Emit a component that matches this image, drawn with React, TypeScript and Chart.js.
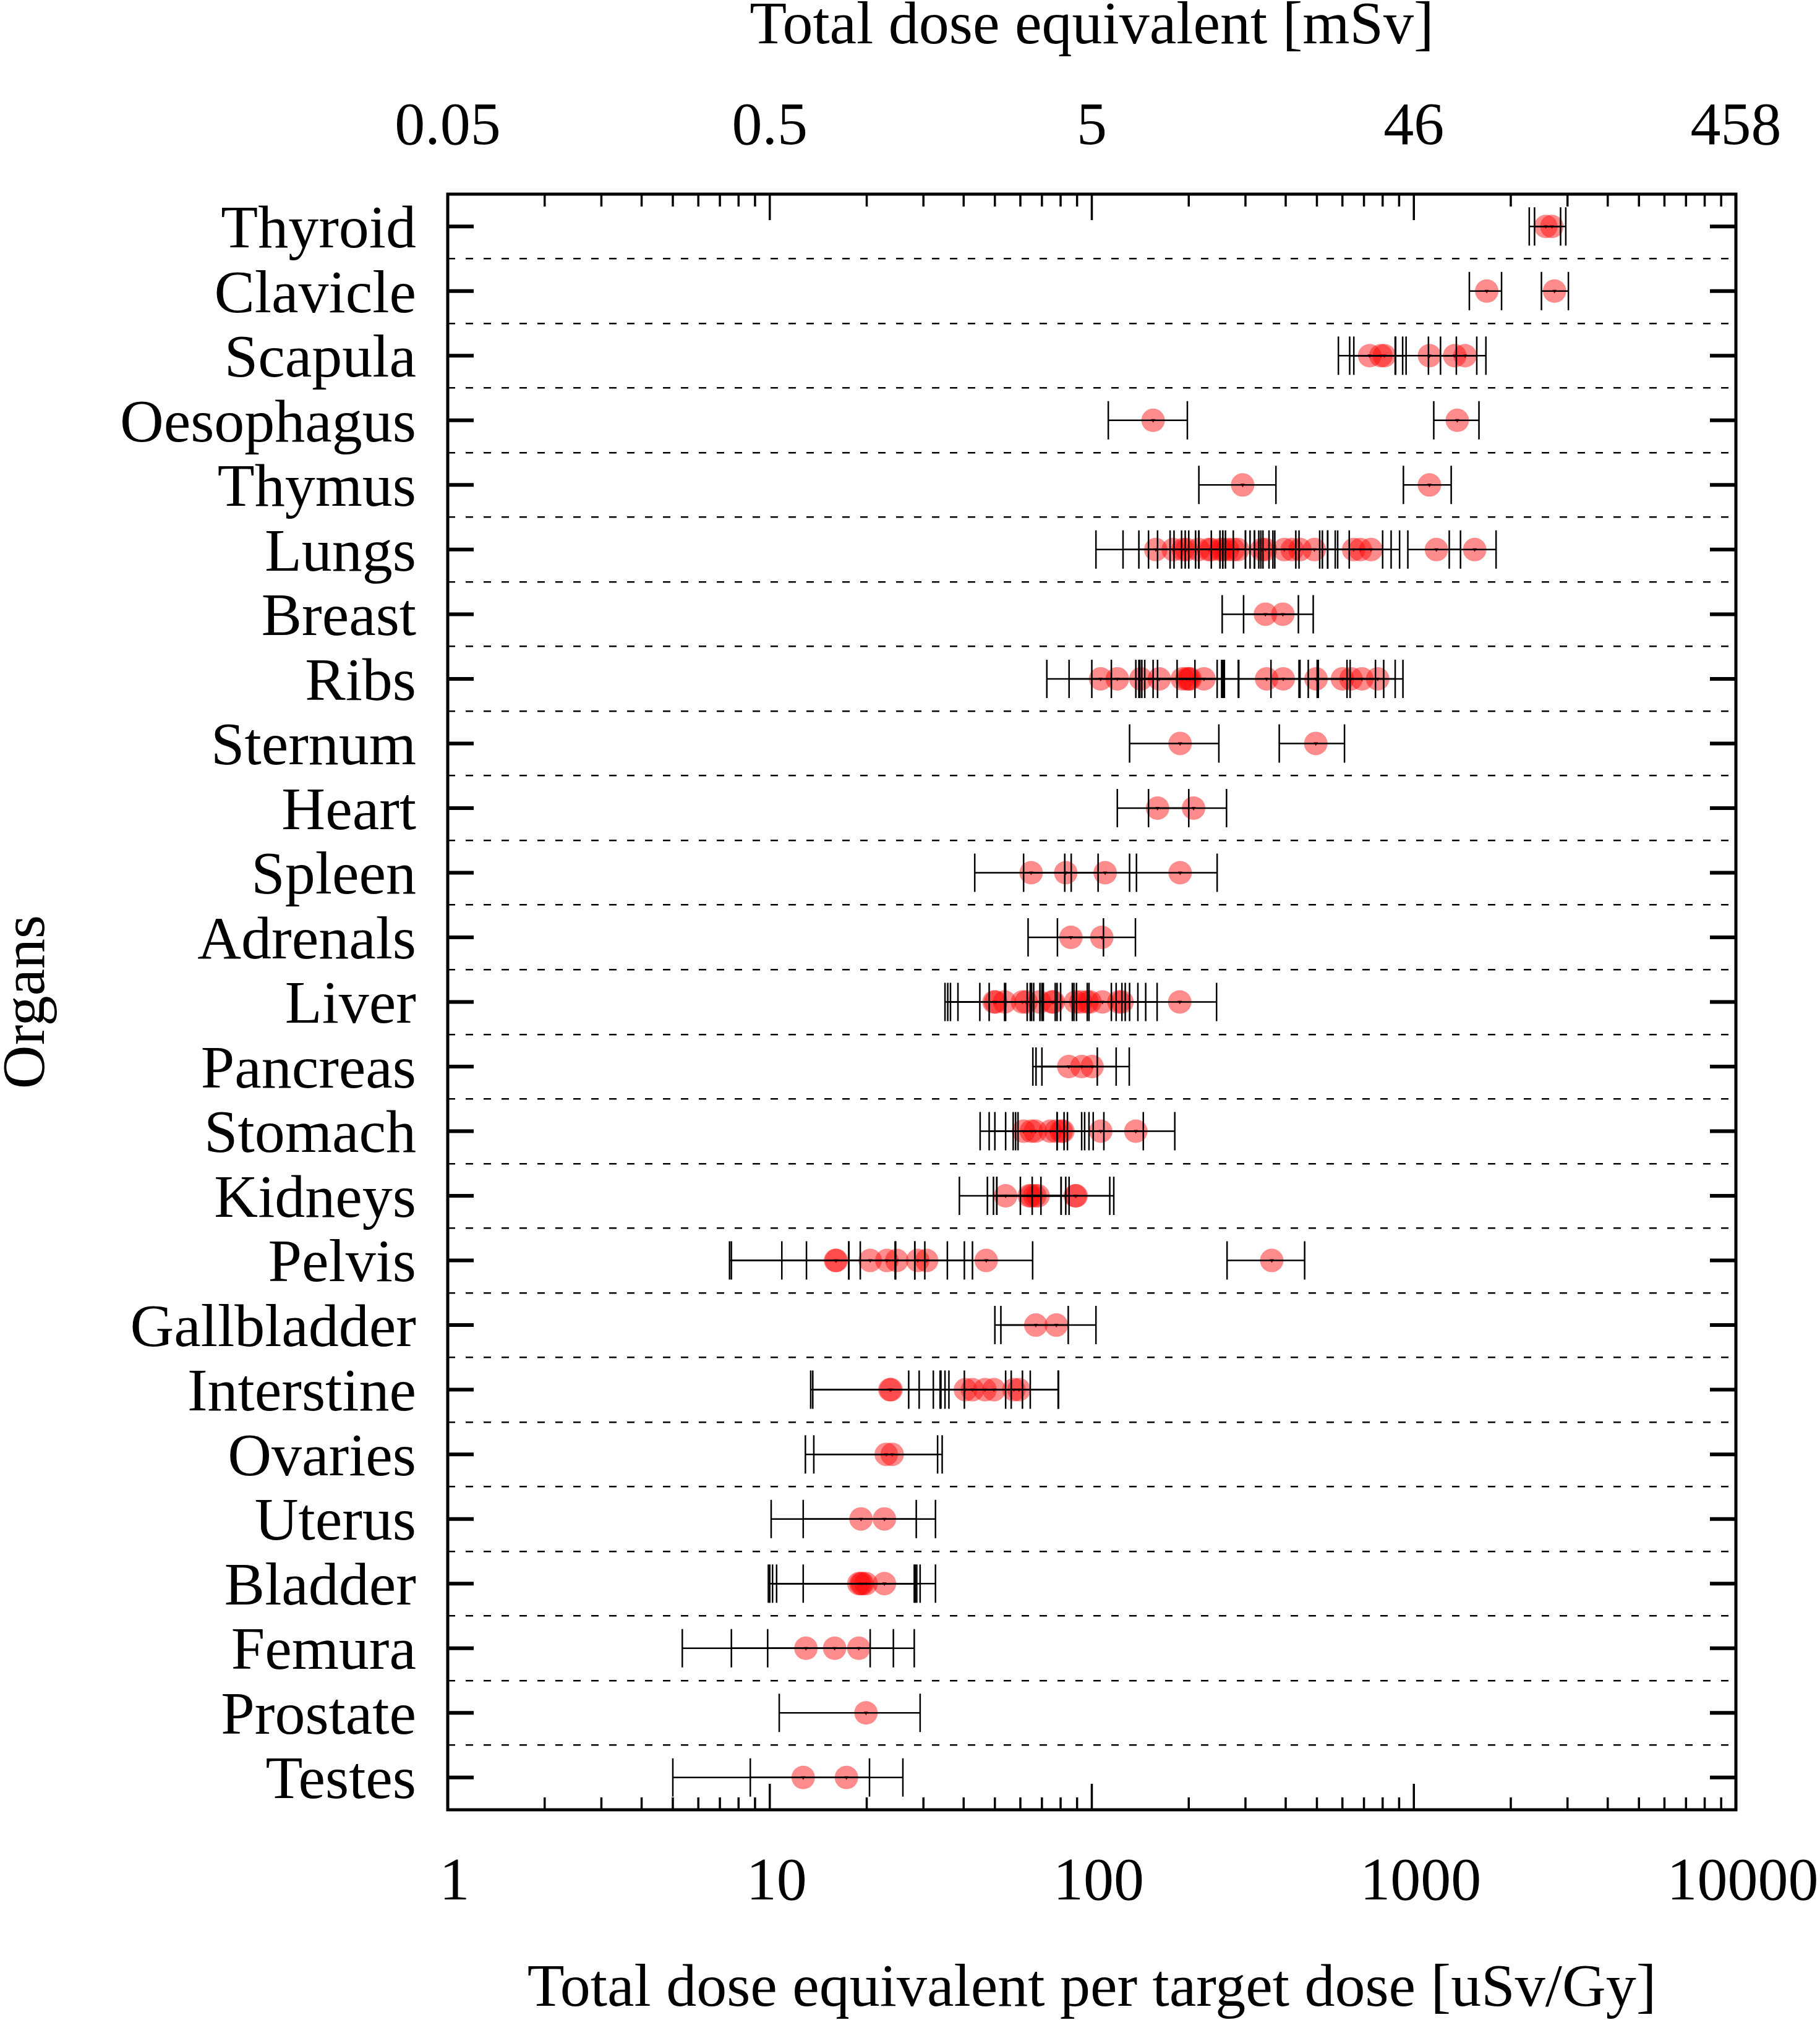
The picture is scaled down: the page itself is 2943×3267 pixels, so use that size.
import { useEffect, useRef } from "react";
import { Chart, registerables } from "chart.js";

Chart.register(...registerables);

// organ rows, top to bottom
const organs = [
  "Thyroid", "Clavicle", "Scapula", "Oesophagus", "Thymus", "Lungs", "Breast",
  "Ribs", "Sternum", "Heart", "Spleen", "Adrenals", "Liver", "Pancreas",
  "Stomach", "Kidneys", "Pelvis", "Gallbladder", "Interstine", "Ovaries",
  "Uterus", "Bladder", "Femura", "Prostate", "Testes",
];

// each point: [value, lower end of error bar, upper end] in uSv/Gy
const thyroid = [[2569, 2282, 2855], [2683, 2370, 2963]];
const clavicle = [[1684, 1487, 1872], [2734, 2490, 3019]];
const scapula = [
  [729, 583, 875], [790, 632, 923], [810, 651, 946],
  [1118, 878, 1355], [1339, 1110, 1568], [1442, 1210, 1674],
];
const oesophagus = [[155, 112.5, 198], [1364, 1153, 1593]];
const thymus = [[294, 215, 373], [1118, 928, 1306]];
const lungs = [
  [158, 103, 215], [179, 125, 235], [192, 140, 250], [197, 150, 255],
  [214, 160, 275], [231, 175, 300], [235, 180, 310], [251, 190, 320],
  [256, 195, 330], [264, 200, 340], [275, 210, 355], [284, 215, 365],
  [337, 255, 430], [346, 260, 440], [396, 300, 510], [419, 320, 540],
  [443, 335, 570], [491, 370, 630], [650, 520, 800], [682, 540, 850],
  [736, 580, 903], [1175, 958, 1396], [1545, 1288, 1800],
];
const breast = [[346, 254, 438], [392, 296, 487]];
const ribs = [
  [106.5, 72.5, 140], [120, 85, 155], [142, 100, 184], [162, 115, 209],
  [191, 137, 245], [197, 141, 253], [200, 143, 257], [202, 146, 258],
  [223, 160, 286], [349, 255, 443], [393, 285, 501], [497, 360, 634],
  [600, 440, 760], [638, 470, 806], [690, 505, 875], [772, 620, 925],
];
const sternum = [[188, 131, 248], [496, 382, 609]];
const heart = [[160, 120, 200], [207, 150, 262]];
const spleen = [[64.8, 43.3, 86.3], [83, 61.4, 104.6], [110, 82.4, 137.6], [188, 131, 245]];
const adrenals = [[86.1, 63.4, 108.7], [107.4, 78.2, 136.6]];
const liver = [
  [49.7, 35, 64.4], [50.3, 35.7, 65], [53.6, 36.4, 70.7], [60.9, 38.4, 78],
  [62.5, 44.9, 80], [68.8, 48, 89.6], [75.2, 53.6, 96.8], [76, 54, 98],
  [89.1, 63, 115], [92.4, 66, 119], [96.6, 69, 124], [98.7, 70, 127],
  [107.9, 77, 139], [121.4, 87, 147], [124.1, 88, 159.5], [187.5, 131, 244],
];
const pancreas = [[84.8, 65.6, 104], [93.1, 67.1, 119], [100.2, 70, 130.7]];
const stomach = [
  [61.4, 45, 78], [64.9, 48, 82], [66.8, 50, 84], [74.3, 54, 95],
  [77.4, 57, 98], [80.3, 59, 101], [81.3, 58, 109], [106.6, 78, 144.5],
  [137, 93, 181],
];
const kidneys = [
  [54, 38.8, 69.5], [63.9, 47.4, 80.3], [64.9, 49.5, 80.3], [66.5, 50.7, 83],
  [68.1, 50.7, 85], [88.8, 60, 117], [89.4, 65.3, 113.7],
];
const pelvis = [
  [16, 7.5, 24.5], [16.1, 7.6, 24.6], [20.5, 13, 28.2], [23.1, 10.9, 35.6],
  [24.8, 17.6, 30.3], [28.8, 19.1, 40.2], [30.7, 17.6, 42.6], [47, 28.2, 65.5],
  [362, 263, 458],
];
const gallbladder = [[67, 50, 84.5], [77.6, 52.2, 103]];
const interstine = [
  [23.6, 13.4, 33.8], [23.8, 13.6, 34], [40.5, 27, 54], [42.6, 29.1, 56.2],
  [46.6, 32.2, 60.9], [49.7, 35, 64.4], [57.3, 36, 78.6], [59.4, 40.2, 78.8],
];
const ovaries = [[23, 12.9, 33.2], [24, 13.7, 34.3]];
const uterus = [[19.2, 10.1, 28.5], [22.7, 12.7, 32.7]];
const bladder = [
  [18.9, 9.9, 28.1], [19.2, 10, 28.3], [19.4, 10.2, 28.6],
  [19.9, 10.5, 29.3], [22.7, 12.7, 32.7],
];
const femura = [[12.95, 5.35, 20.5], [15.9, 7.6, 24.2], [18.9, 9.85, 28.1]];
const prostate = [[19.9, 10.7, 29.3]];
const testes = [[12.7, 5.0, 20.4], [17.3, 8.7, 25.9]];

const organPoints = [
  thyroid, clavicle, scapula, oesophagus, thymus, lungs, breast, ribs,
  sternum, heart, spleen, adrenals, liver, pancreas, stomach, kidneys,
  pelvis, gallbladder, interstine, ovaries, uterus, bladder, femura,
  prostate, testes,
];

// axis ticks
const decades = [1, 10, 100, 1000, 10000];
const mSvLabels = ["0.05", "0.5", "5", "46", "458"];

const W = 2943;
const H = 3267;
const FONT = "'Liberation Serif', 'Times New Roman', serif";

// horizontal error bars, drawn right after the red circles
const errorBars = {
  id: "errorBars",
  afterDatasetDraw(chart: any, args: any) {
    if (args.index !== 0) return;
    const { ctx } = chart;
    const x = chart.scales.x;
    const y = chart.scales.y;
    ctx.save();
    ctx.strokeStyle = "#000";
    ctx.lineWidth = 2.5;
    organPoints.forEach((pts, i) => {
      const py = y.getPixelForValue(i);
      pts.forEach(([, lo, hi]) => {
        const x0 = x.getPixelForValue(lo);
        const x1 = x.getPixelForValue(hi);
        ctx.beginPath();
        ctx.moveTo(x0, py);
        ctx.lineTo(x1, py);
        ctx.moveTo(x0, py - 31);
        ctx.lineTo(x0, py + 31);
        ctx.moveTo(x1, py - 31);
        ctx.lineTo(x1, py + 31);
        ctx.stroke();
      });
    });
    ctx.restore();
  },
};

// gnuplot-like frame with inward ticks
const frame = {
  id: "frame",
  afterDraw(chart: any) {
    const { ctx, chartArea: a } = chart;
    const x = chart.scales.x;
    const y = chart.scales.y;
    ctx.save();
    ctx.strokeStyle = "#000";
    ctx.lineWidth = 3.5;
    ctx.beginPath();
    decades.forEach((d) => {
      for (let m = 1; m < 10; m++) {
        const v = d * m;
        if (v > 10000) break;
        const px = x.getPixelForValue(v);
        const len = m === 1 ? 42 : 20;
        ctx.moveTo(px, a.top);
        ctx.lineTo(px, a.top + len);
        ctx.moveTo(px, a.bottom);
        ctx.lineTo(px, a.bottom - len);
      }
    });
    ctx.stroke();
    ctx.lineWidth = 6;
    ctx.beginPath();
    organs.forEach((_, i) => {
      const py = y.getPixelForValue(i);
      ctx.moveTo(a.left, py);
      ctx.lineTo(a.left + 42, py);
      ctx.moveTo(a.right, py);
      ctx.lineTo(a.right - 42, py);
    });
    ctx.stroke();
    ctx.lineWidth = 5;
    ctx.strokeRect(a.left, a.top, a.right - a.left, a.bottom - a.top);
    ctx.restore();
  },
};

const noPadding = (s: any) => {
  s.paddingLeft = 0;
  s.paddingRight = 0;
  s.paddingTop = 0;
  s.paddingBottom = 0;
};

export default function App() {
  const canvasRef = useRef<HTMLCanvasElement>(null);

  useEffect(() => {
    if (!canvasRef.current) return;
    const points = organPoints.flatMap((pts, i) =>
      pts.map((p) => ({ x: p[0], y: organs[i] }))
    );
    const tickFont = { family: FONT, size: 98, lineHeight: 1.2 };

    const chart = new Chart(canvasRef.current, {
      type: "scatter",
      data: {
        datasets: [
          {
            data: points,
            pointRadius: 19,
            pointHoverRadius: 19,
            backgroundColor: "rgba(255, 0, 0, 0.45)",
            borderWidth: 0,
          },
          {
            data: points,
            pointStyle: "triangle",
            rotation: 180,
            pointRadius: 4,
            pointHoverRadius: 4,
            backgroundColor: "#000",
            borderWidth: 0,
          },
        ],
      },
      options: {
        responsive: false,
        devicePixelRatio: 1,
        animation: false,
        layout: { padding: { left: 0, top: 0, right: 136, bottom: 0 } },
        plugins: {
          legend: { display: false },
          tooltip: { enabled: false },
        },
        scales: {
          x: {
            type: "logarithmic",
            position: "bottom",
            min: 1,
            max: 10000,
            afterBuildTicks: (s: any) => {
              s.ticks = decades.map((v) => ({ value: v }));
            },
            afterFit: (s: any) => {
              s.height = 340;
              noPadding(s);
            },
            ticks: {
              font: tickFont,
              color: "#000",
              padding: 60,
              labelOffset: 11,
              maxRotation: 0,
              autoSkip: false,
              callback: (v: any) => String(v),
            },
            grid: { display: false, drawTicks: false },
            border: { display: false },
            title: {
              display: true,
              text: "Total dose equivalent per target dose [uSv/Gy]",
              color: "#000",
              padding: 0,
              font: { family: FONT, size: 98, lineHeight: 1.0 },
            },
          },
          x2: {
            type: "logarithmic",
            position: "top",
            min: 1,
            max: 10000,
            afterBuildTicks: (s: any) => {
              s.ticks = decades.map((v) => ({ value: v }));
            },
            afterFit: (s: any) => {
              s.height = 314;
              noPadding(s);
            },
            ticks: {
              font: tickFont,
              color: "#000",
              padding: 48,
              maxRotation: 0,
              autoSkip: false,
              callback: (_v: any, i: number) => mSvLabels[i],
            },
            grid: { display: false, drawTicks: false },
            border: { display: false },
            title: {
              display: true,
              text: "Total dose equivalent [mSv]",
              color: "#000",
              padding: 0,
              font: { family: FONT, size: 98, lineHeight: 0.9 },
            },
          },
          y: {
            type: "category",
            labels: organs,
            offset: true,
            afterFit: (s: any) => {
              s.width = 724;
              noPadding(s);
            },
            ticks: {
              font: tickFont,
              color: "#000",
              padding: 51,
              labelOffset: 8,
              autoSkip: false,
            },
            grid: {
              offset: true,
              color: "#000",
              lineWidth: 2.5,
              drawTicks: false,
            },
            border: { display: false, dash: [12, 17] },
            title: {
              display: true,
              text: "Organs",
              color: "#000",
              padding: 0,
              font: { family: FONT, size: 98, lineHeight: 0.92 },
            },
          },
        },
      } as any,
      plugins: [errorBars, frame],
    });

    return () => chart.destroy();
  }, []);

  return (
    <div style={{ position: "absolute", left: 0, top: 0, width: W, height: H, background: "#fff" }}>
      <canvas ref={canvasRef} width={W} height={H} style={{ width: W, height: H, display: "block" }} />
    </div>
  );
}
